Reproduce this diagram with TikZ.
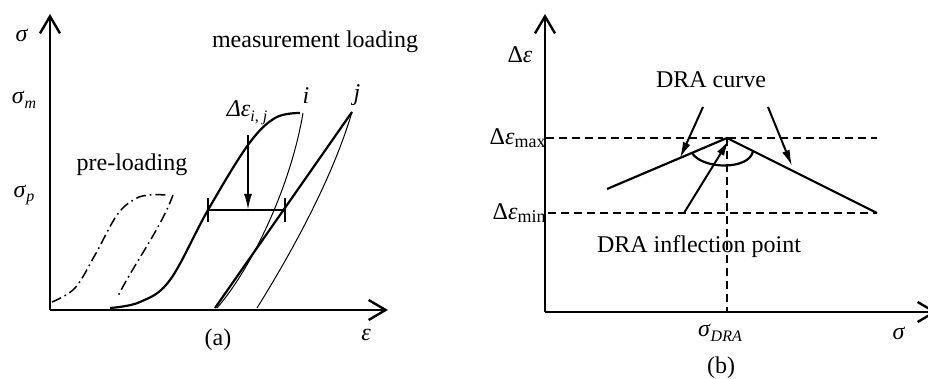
\documentclass[tikz,border=0pt]{standalone}
\usepackage{fontspec}
\setmainfont{Liberation Serif}
\usetikzlibrary{arrows.meta,positioning,calc}

\newcommand{\lowsub}[1]{\raisebox{-0.45ex}{\footnotesize #1}}
\newcommand{\upsub}[1]{\raisebox{-0.3ex}{\small #1}}

\begin{document}
\begin{tikzpicture}[x=0.5pt, y=-0.5pt, font=\fontsize{12}{14}\selectfont,
    axis/.style={line width=1.2pt, -{Straight Barb[length=8.5pt,width=10pt,line width=1.2pt]}},
    thickline/.style={line width=1.1pt},
    thinline/.style={line width=0.5pt},
    preload/.style={line width=0.75pt, dash pattern=on 5pt off 2pt on 0.8pt off 2pt},
    guide/.style={line width=0.75pt, dash pattern=on 4pt off 2.5pt},
    pointer/.style={line width=1pt, -{Latex[length=8pt,width=4pt]}}]
    \useasboundingbox (0,0) rectangle (928,379);

    % Panel (a): axes
    \coordinate (oa) at (50,310);
    \coordinate (ya) at (50,14);
    \coordinate (xa) at (388,310);
    \draw [axis] (oa) -- (ya);
    \draw [axis] (oa) -- (xa);
    \node (sig) at (22,35) {\textit{σ}};
    \node (sigm) at (24,100) {\textit{σ}\lowsub{\textit{m}}};
    \node (sigp) at (24,195) {\textit{σ}\lowsub{\textit{p}}};
    \node (eps) at (366,335) {\textit{ε}};
    \node (capa) at (218,340) {(a)};

    % Pre-loading curves
    \draw [preload] plot[smooth, tension=0.6] coordinates {(52,302) (75,288) (95,255) (117,215) (135,199) (150,195) (168,195)};
    \draw [preload] (173,195) .. controls (160,230) and (135,262) .. (117,298);
    \node (pre) at (132,165) {pre-loading};

    % Measurement loading curves
    \draw [thickline] plot[smooth, tension=0.6] coordinates {(110,308) (140,302) (170,280) (208,210) (248,145) (275,118) (300,113)};
    \coordinate (top i) at (303,113);
    \coordinate (top j) at (352,112);
    \coordinate (foot j) at (215,308);
    \draw [thickline] (foot j) -- (top j);
    \draw [thinline] (top i) .. controls (290,190) and (250,270) .. (217,308);
    \draw [thinline] (top j) .. controls (332,180) and (290,255) .. (257,308);
    \node (meas) [anchor=west] at (205,42) {measurement loading};
    \node (li) at (306,96) {\textit{i}};
    \node (lj) at (357,95) {\textit{j}};

    % Strain difference
    \coordinate (bl) at (208,210);
    \coordinate (br) at (285,210);
    \coordinate (bm) at (248,210);
    \draw [thickline] (bl) -- (br);
    \draw [thickline] (208,198) -- (208,222);
    \draw [thickline] (285,198) -- (285,222);
    \node (deps) at (247,113) {\textit{Δε}\lowsub{\textit{i}, \textit{j}}};
    \coordinate (ds) at (248,135);
    \draw [pointer] (ds) -- (bm);

    % Panel (b): axes
    \coordinate (ob) at (545,312);
    \coordinate (yb) at (545,14);
    \coordinate (xb) at (937,312);
    \draw [axis] (ob) -- (yb);
    \draw [axis] (ob) -- (xb);
    \node (de) at (520,55) {Δ\textit{ε}};
    \node (demax) [anchor=east, inner sep=0pt] at (546,138) {Δ\textit{ε}\upsub{max}};
    \node (demin) [anchor=east, inner sep=0pt] at (546,213) {Δ\textit{ε}\upsub{min}};
    \node (sdra) at (720,333) {\textit{σ}\lowsub{\textit{DRA}}};
    \node (sigb) at (899,333) {\textit{σ}};
    \node (capb) at (721,368) {(b)};

    % Guide lines
    \coordinate (peak) at (727,138);
    \coordinate (rend) at (877,213);
    \draw [guide] (546,138) -- (877,138);
    \draw [guide] (548,213) -- (rend);
    \draw [guide] (peak) -- (727,312);

    % DRA curve
    \coordinate (lend) at (607,189);
    \draw [thickline] (lend) -- (peak) -- (rend);
    \draw [thickline] (692,153) .. controls (703,170) and (750,170) .. (753,151);
    \node (dra) at (711,80) {DRA curve};
    \node (infl) at (699,247) {DRA inflection point};
    \coordinate (al) at (703,107);
    \coordinate (ar) at (768,107);
    \coordinate (tl) at (680,158);
    \coordinate (tr) at (792,166);
    \coordinate (ai) at (684,213);
    \coordinate (ti) at (729,140);
    \draw [pointer] (al) -- (tl);
    \draw [pointer] (ar) -- (tr);
    \draw [pointer] (ai) -- (ti);
\end{tikzpicture}
\end{document}
